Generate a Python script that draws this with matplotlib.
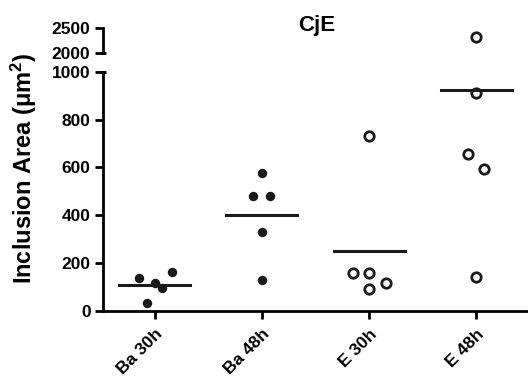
#!/usr/bin/env python3
"""Inclusion area per condition, scatter with mean bars on a broken y axis."""

import numpy as np
import matplotlib
matplotlib.use("Agg")
import matplotlib.pyplot as plt

plt.rcParams["font.family"] = ["Liberation Sans", "DejaVu Sans"]
plt.rcParams["font.weight"] = "bold"
plt.rcParams["mathtext.fontset"] = "custom"
plt.rcParams["mathtext.rm"] = "Liberation Sans:bold"
plt.rcParams["mathtext.it"] = "Liberation Sans:bold"
plt.rcParams["mathtext.bf"] = "Liberation Sans:bold"

# Groups and measured areas (um^2)
groups = ["Ba 30h", "Ba 48h", "E 30h", "E 48h"]
ba30 = [138, 35, 117, 96, 165]
ba48 = [575, 481, 481, 330, 130]
e30 = [730, 159, 159, 119, 91]
e48 = [2320, 909, 657, 594, 144]

# horizontal spread of overlapping points
ba30_dx = [-0.14, -0.07, 0.0, 0.07, 0.16]
ba48_dx = [0.0, -0.08, 0.08, 0.0, 0.0]
e30_dx = [0.0, -0.15, 0.0, 0.16, 0.0]
e48_dx = [0.0, 0.0, -0.08, 0.07, 0.0]

series = [ba30, ba48, e30, e48]
spread = [ba30_dx, ba48_dx, e30_dx, e48_dx]
filled = [True, True, False, False]

W, H = 528, 382
fig = plt.figure(figsize=(W / 100, H / 100), dpi=100)
left, right = 103 / W, 1.0
ax_lo = fig.add_axes([left, 1 - 311 / H, right - left, (311 - 71.7) / H])
ax_hi = fig.add_axes([left, 1 - 53.3 / H, right - left, (53.3 - 28.3) / H])

LW = 2.0
for ax in (ax_lo, ax_hi):
    ax.set_xlim(-0.48, 3.48)
    for s in ("top", "right"):
        ax.spines[s].set_visible(False)
    ax.spines["left"].set_linewidth(LW)
    ax.spines["bottom"].set_linewidth(LW)
    ax.tick_params(width=LW, length=6, labelsize=12.5, pad=3)

ax_lo.set_ylim(0, 1000)
ax_lo.set_yticks([0, 200, 400, 600, 800, 1000])
ax_hi.set_ylim(2000, 2500)
ax_hi.set_yticks([2000, 2500])
ax_hi.spines["bottom"].set_visible(False)
ax_hi.tick_params(axis="x", bottom=False, labelbottom=False)

ax_lo.set_xticks(range(len(groups)))
ax_lo.set_xticklabels(groups, rotation=45, ha="right", rotation_mode="anchor",
                      fontsize=12.5, fontweight="bold")
ax_lo.tick_params(axis="x", pad=5)
for lab in ax_lo.get_yticklabels() + ax_hi.get_yticklabels():
    lab.set_fontweight("bold")

for i, (vals, dx, full) in enumerate(zip(series, spread, filled)):
    x = np.array(dx) + i
    y = np.array(vals)
    m = np.mean(vals)
    for ax in (ax_lo, ax_hi):
        if full:
            ax.plot(x, y, "o", color="#1a1a1a", ms=6.8, mew=0)
        else:
            ax.plot(x, y, "o", mfc="white", mec="#1a1a1a", ms=6.8, mew=2.0)
        ax.plot([i - 0.33, i + 0.33], [m, m], color="#1a1a1a", lw=2.2)

# short crossbars marking the axis break
for ax, yv in ((ax_hi, 2000), (ax_lo, 1000)):
    ax.plot([-0.48 - 0.03, -0.48 + 0.03], [yv, yv], color="black", lw=LW,
            clip_on=False, solid_capstyle="butt")

fig.text(317 / W, 1 - 26 / H, "CjE", ha="center", va="center",
         fontsize=16, fontweight="bold")
fig.text(24 / W, 1 - 168 / H, "Inclusion Area (\u03bcm$^2$)", rotation=90,
         ha="center", va="center", fontsize=17, fontweight="bold")

fig.savefig("out.png", dpi=100, facecolor="white")
